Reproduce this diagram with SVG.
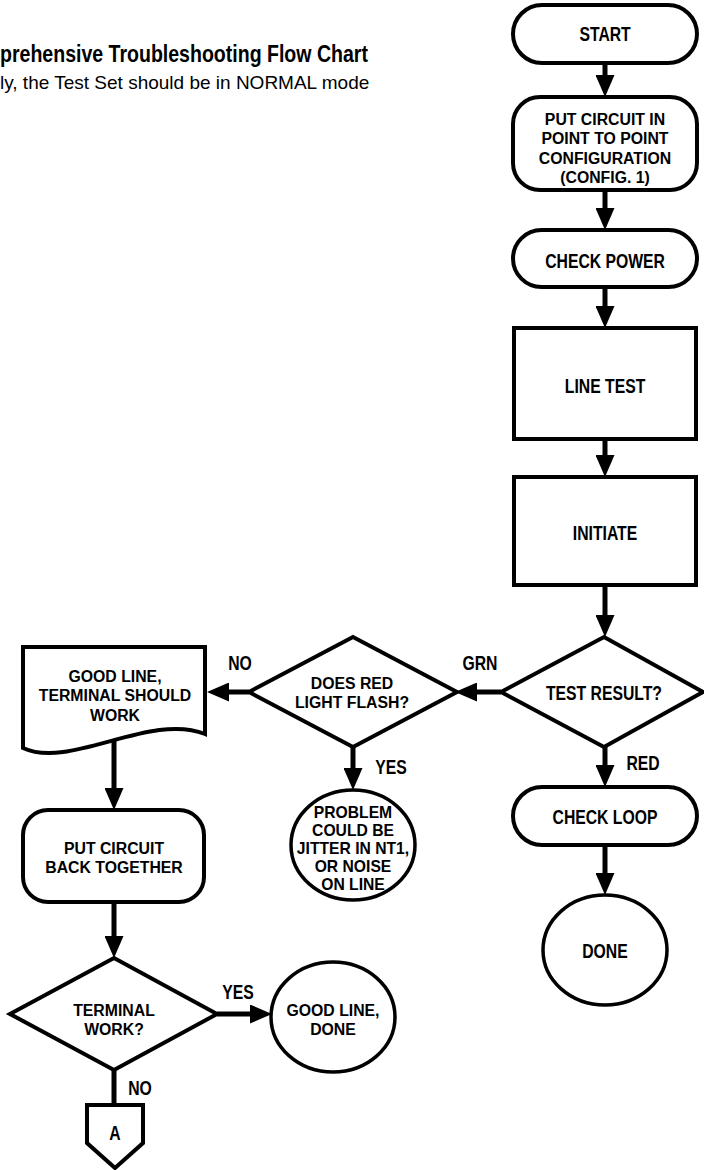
<svg xmlns="http://www.w3.org/2000/svg" width="704" height="1170" viewBox="0 0 704 1170">
<style>
.n{fill:#fff;stroke:#000;stroke-width:4}
.e{fill:#fff;stroke:#000;stroke-width:3.5}
.c{fill:none;stroke:#000;stroke-width:5}
.t{font-family:"Liberation Sans",Arial,sans-serif;font-weight:bold;font-size:21px;text-anchor:middle;fill:#000;transform-box:fill-box;transform-origin:center;transform:scaleX(0.75)}
.m{font-size:17px;transform:scaleX(0.93)}
.p{font-size:16px;transform:scaleX(0.98)}
.ttl{font-family:"Liberation Sans",Arial,sans-serif;font-weight:bold;font-size:23px;fill:#000;transform-box:fill-box;transform-origin:left center;transform:scaleX(0.85)}
.sub{font-family:"Liberation Sans",Arial,sans-serif;font-size:19px;fill:#000}
</style>
<defs>
<marker id="ah" markerUnits="userSpaceOnUse" viewBox="0 0 22 19" markerWidth="22" markerHeight="19" refX="0" refY="9.5" orient="auto">
<path d="M0,0 L22,9.5 L0,19 Z" fill="#000"/>
</marker>
</defs>
<rect x="0" y="0" width="704" height="1170" fill="#fff"/>
<g id="title">
<text class="ttl" x="0" y="62">prehensive Troubleshooting Flow Chart</text>
<text class="sub" x="0" y="89">ly, the Test Set should be in NORMAL mode</text>
</g>
<g id="connectors">
<line class="c" x1="605" y1="63" x2="605" y2="75" marker-end="url(#ah)"/>
<line class="c" x1="605" y1="190" x2="605" y2="208" marker-end="url(#ah)"/>
<line class="c" x1="605" y1="287" x2="605" y2="306" marker-end="url(#ah)"/>
<line class="c" x1="605" y1="439" x2="605" y2="455" marker-end="url(#ah)"/>
<line class="c" x1="605" y1="585" x2="605" y2="615" marker-end="url(#ah)"/>
<line class="c" x1="501" y1="692" x2="477" y2="692" marker-end="url(#ah)"/>
<line class="c" x1="605" y1="747" x2="605" y2="765" marker-end="url(#ah)"/>
<line class="c" x1="605" y1="845" x2="605" y2="873" marker-end="url(#ah)"/>
<line class="c" x1="249" y1="692" x2="229" y2="692" marker-end="url(#ah)"/>
<line class="c" x1="353" y1="747" x2="353" y2="768" marker-end="url(#ah)"/>
<line class="c" x1="114" y1="740" x2="114" y2="788" marker-end="url(#ah)"/>
<line class="c" x1="114" y1="902" x2="114" y2="936" marker-end="url(#ah)"/>
<line class="c" x1="217" y1="1014" x2="250" y2="1014" marker-end="url(#ah)"/>
<line class="c" x1="114" y1="1070" x2="114" y2="1105"/>
<text class="t" x="480" y="670">GRN</text>
<text class="t" x="643" y="770">RED</text>
<text class="t" x="240" y="670">NO</text>
<text class="t" x="391" y="774">YES</text>
<text class="t" x="238" y="999">YES</text>
<text class="t" x="140" y="1095">NO</text>
</g>
<g id="start">
<rect class="n" x="513" y="5" width="184" height="58" rx="29"/>
<text class="t" x="605" y="41">START</text>
</g>
<g id="config">
<rect class="n" x="513" y="97" width="184" height="93" rx="27"/>
<text class="t m" x="605" y="125">PUT CIRCUIT IN<tspan x="605" dy="19.3">POINT TO POINT</tspan><tspan x="605" dy="19.3">CONFIGURATION</tspan><tspan x="605" dy="19.3">(CONFIG. 1)</tspan></text>
</g>
<g id="checkpower">
<rect class="n" x="513" y="230" width="184" height="57" rx="28.5"/>
<text class="t" x="605" y="268">CHECK POWER</text>
</g>
<g id="linetest">
<rect class="n" x="514" y="328" width="182" height="111"/>
<text class="t" x="605" y="393">LINE TEST</text>
</g>
<g id="initiate">
<rect class="n" x="514" y="477" width="182" height="108"/>
<text class="t" x="605" y="540">INITIATE</text>
</g>
<g id="testresult">
<polygon class="n" points="604,637 703,692 604,747 501,692"/>
<text class="t" x="604" y="700">TEST RESULT?</text>
</g>
<g id="checkloop">
<rect class="n" x="513" y="787" width="184" height="58" rx="29"/>
<text class="t" x="605" y="824">CHECK LOOP</text>
</g>
<g id="done">
<ellipse class="e" cx="605" cy="950" rx="62" ry="55"/>
<text class="t" x="605" y="958">DONE</text>
</g>
<g id="redflash">
<polygon class="n" points="353,637 457,692 353,747 249,692"/>
<text class="t m" x="352" y="689">DOES RED<tspan x="352" dy="19.3">LIGHT FLASH?</tspan></text>
</g>
<g id="problem">
<ellipse class="e" cx="353" cy="845" rx="62" ry="55"/>
<text class="t p" x="353" y="818">PROBLEM<tspan x="353" dy="18">COULD BE</tspan><tspan x="353" dy="18">JITTER IN NT1,</tspan><tspan x="353" dy="18">OR NOISE</tspan><tspan x="353" dy="18">ON LINE</tspan></text>
</g>
<g id="goodline">
<path class="n" d="M23,647 H205 V734 C150,712 70,770 23,748 Z"/>
<text class="t m" x="115" y="682">GOOD LINE,<tspan x="115" dy="19.3">TERMINAL SHOULD</tspan><tspan x="115" dy="19.3">WORK</tspan></text>
</g>
<g id="backtogether">
<rect class="n" x="23" y="810" width="181" height="92" rx="25"/>
<text class="t m" x="114" y="854">PUT CIRCUIT<tspan x="114" dy="19.3">BACK TOGETHER</tspan></text>
</g>
<g id="terminalwork">
<polygon class="n" points="114,958 217,1014 114,1070 10,1014"/>
<text class="t m" x="114" y="1016">TERMINAL<tspan x="114" dy="19.3">WORK?</tspan></text>
</g>
<g id="goodlinedone">
<ellipse class="e" cx="333" cy="1017" rx="62" ry="55"/>
<text class="t m" x="333" y="1016">GOOD LINE,<tspan x="333" dy="19.3">DONE</tspan></text>
</g>
<g id="connectorA">
<polygon class="n" points="87,1105 143,1105 143,1143 115,1168 87,1143"/>
<text class="t" x="115" y="1140">A</text>
</g>
</svg>
